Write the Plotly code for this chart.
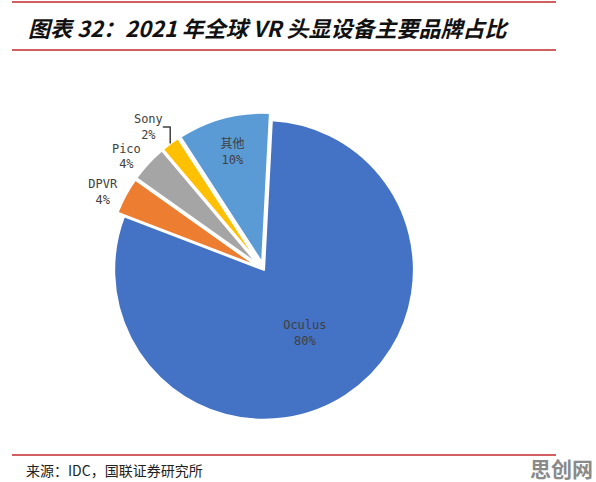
import plotly.graph_objects as go

brands = ["Oculus", "DPVR", "Pico", "Sony", "其他"]
shares = [80, 4, 4, 2, 10]
colors = ["#4472C4", "#ED7D31", "#A5A5A5", "#FFC000", "#5B9BD5"]
pulls = [0, 0.05, 0.05, 0.05, 0.05]
positions = ["inside", "outside", "outside", "outside", "inside"]

title_text = "图表 32：2021 年全球 VR 头显设备主要品牌占比"
source_text = "来源：IDC，国联证券研究所"
watermark = "思创网"

W, H = 596, 482

fig = go.Figure(go.Pie(
    labels=brands,
    values=shares,
    sort=False,
    direction="clockwise",
    rotation=3,
    pull=pulls,
    marker=dict(colors=colors, line=dict(color="white", width=2)),
    texttemplate="%{label}<br>%{percent:.0%}",
    textposition=positions,
    insidetextorientation="horizontal",
    textfont=dict(family="DejaVu Sans Mono, Noto Sans CJK SC", size=12, color="#404040"),
    outsidetextfont=dict(family="DejaVu Sans Mono, Noto Sans CJK SC", size=12, color="#404040"),
    domain=dict(x=[0.179, 0.707], y=[0.113, 0.767]),
    showlegend=False,
    hoverinfo="label+percent",
))

shapes = []
for yy in [2, 50, 455]:
    shapes.append(dict(type="line", xref="paper", yref="paper",
                       x0=12 / W, x1=556 / W, y0=1 - yy / H, y1=1 - yy / H,
                       line=dict(color="#C0282F", width=1.5)))

annotations = [
    dict(text="<b><i>" + title_text + "</i></b>", x=26 / W, y=1 - 27 / H,
         xref="paper", yref="paper", xanchor="left", yanchor="middle",
         showarrow=False, font=dict(family="Noto Sans CJK SC", size=22, color="#111111")),
    dict(text=source_text, x=24 / W, y=1 - 470 / H,
         xref="paper", yref="paper", xanchor="left", yanchor="middle",
         showarrow=False, font=dict(family="Noto Sans CJK SC", size=14, color="#222222")),
    dict(text="<b>" + watermark + "</b>", x=595 / W, y=1 - 468 / H,
         xref="paper", yref="paper", xanchor="right", yanchor="middle",
         showarrow=False, font=dict(family="Noto Sans CJK SC", size=21, color="#8a8a8a")),
]

fig.update_layout(
    width=W, height=H,
    margin=dict(l=0, r=0, t=0, b=0),
    paper_bgcolor="white",
    plot_bgcolor="white",
    shapes=shapes,
    annotations=annotations,
)

fig.write_html("out.html")
